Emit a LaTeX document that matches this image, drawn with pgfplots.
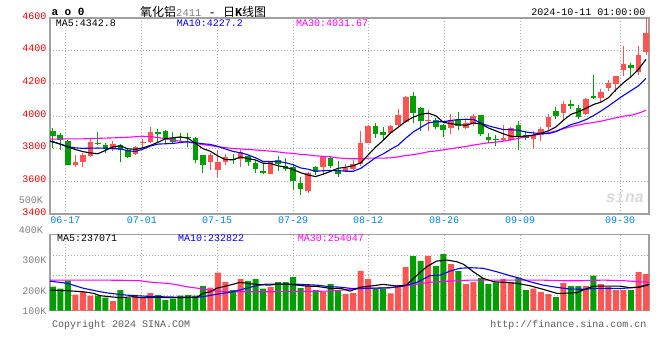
\documentclass[border=0pt]{standalone}
\usepackage{pgfplots}
\pgfplotsset{compat=1.18}
\usepackage{pgfplotstable}
\usepackage{fontspec}
\setmainfont{Liberation Mono}
\newfontfamily\cjk{Noto Sans CJK SC}
\definecolor{kred}{RGB}{255,84,84}
\definecolor{kgreen}{RGB}{0,158,0}
\definecolor{tickred}{RGB}{235,0,0}
\definecolor{dateblue}{RGB}{0,128,224}
\definecolor{magn}{RGB}{255,0,255}
\definecolor{frame}{RGB}{160,160,160}
\definecolor{gridc}{RGB}{170,170,170}
\definecolor{txtgray}{RGB}{90,90,90}

% up (red) candles: x open high low close volume(K)
\pgfplotstableread{
x o h l c v
3 3697 3760 3690 3718 180
4 3716 3775 3690 3763 193
5 3757 3862 3752 3838 175
8 3800 3850 3785 3829 148
11 3767 3818 3759 3810 175
12 3837 3860 3805 3843 163
13 3843 3930 3833 3905 188
21 3720 3773 3670 3763 215
22 3670 3794 3629 3720 290
23 3716 3767 3697 3751 243
25 3736 3790 3685 3781 258
29 3645 3726 3643 3720 218
34 3543 3656 3530 3652 228
36 3685 3757 3640 3751 195
39 3664 3707 3656 3683 183
40 3677 3732 3670 3707 188
41 3705 3907 3695 3837 298
42 3837 3942 3833 3936 258
45 3895 3942 3889 3936 187
46 3944 4041 3936 4008 228
47 3963 4122 3959 4115 318
50 3967 4035 3911 3973 373
53 3926 4010 3891 3977 333
55 3926 3973 3918 3955 233
56 3953 4010 3936 3998 243
60 3852 3942 3846 3864 258
61 3856 3932 3848 3924 243
64 3859 3908 3801 3883 210
65 3885 3933 3845 3920 193
66 3930 4012 3914 3996 183
68 4020 4092 3969 4072 238
71 4010 4109 4006 4105 223
73 4113 4166 4088 4146 233
74 4174 4221 4154 4201 218
75 4195 4246 4150 4242 203
76 4279 4430 4246 4318 203
78 4267 4430 4248 4375 293
79 4392 4620 4371 4508 283
}\upk

% down (green) candles
\pgfplotstableread{
x o h l c v
0 3910 3925 3805 3875 220
1 3886 3896 3790 3853 210
2 3850 3856 3698 3700 250
6 3837 3905 3820 3826 175
7 3825 3833 3771 3800 165
9 3825 3830 3716 3790 203
10 3794 3800 3743 3752 163
14 3904 3920 3835 3887 178
15 3908 3913 3837 3860 153
16 3865 3905 3833 3843 160
17 3872 3895 3833 3864 175
18 3874 3899 3808 3864 178
19 3864 3870 3712 3732 175
20 3759 3763 3650 3697 223
24 3734 3767 3707 3728 203
26 3753 3761 3691 3716 248
27 3713 3732 3654 3678 258
28 3664 3705 3643 3652 210
30 3732 3753 3666 3707 243
31 3695 3744 3664 3676 243
32 3685 3707 3548 3605 268
33 3590 3625 3518 3555 213
35 3689 3695 3637 3658 203
37 3742 3751 3683 3691 233
38 3670 3726 3629 3646 203
43 3936 3955 3866 3889 212
44 3901 3934 3856 3885 212
48 4122 4144 3959 4021 373
49 4047 4056 3911 3969 348
51 3977 3990 3918 3932 323
52 3942 3953 3870 3913 383
54 3977 4023 3913 3940 298
57 4004 4006 3876 3889 263
58 3874 3899 3835 3852 233
59 3858 3881 3819 3852 242
62 3942 3967 3790 3876 263
63 3881 3911 3856 3868 203
67 4031 4053 3982 4000 168
69 4072 4098 4041 4064 223
70 4047 4068 3982 3996 223
72 4125 4252 4105 4113 275
77 4314 4324 4232 4293 203
}\downk

\pgfplotsset{
  panel/.style={
    scale only axis, width=599pt, anchor=south west,
    xmin=-0.37, xmax=79.4, enlargelimits=false, clip=true,
    axis line style={draw=frame, line width=1.3pt},
    major tick length=0pt,
    xtick={1.68,11.85,21.88,32.0,41.98,52.1,62.23,75.54},
    xmajorgrids,
    grid style={gridc, line width=0.9pt, dash pattern=on 0.9pt off 2.1pt},
    tick label style={font=\fontsize{10}{10}\selectfont},
  },
  wick/.style={only marks, mark=*, mark size=0pt, mark options={draw=none, fill=none}, forget plot,
    error bars/.cd, y dir=plus, y explicit, error mark=none,
    error bar style={draw=#1, line width=1pt, solid}},
  body/.style={only marks, mark=*, mark size=0pt, mark options={draw=none, fill=none}, forget plot,
    error bars/.cd, y dir=plus, y explicit, error mark=none,
    error bar style={draw=#1, line width=5.6pt, solid}},
}

\begin{document}
\begin{tikzpicture}[x=1pt,y=1pt]
\useasboundingbox (0,0) rectangle (660,360);

% ---------- price panel ----------
\begin{axis}[panel, at={(50pt,146pt)}, height=196pt,
  ymin=3400, ymax=4600,
  ytick={3400,3600,3800,4000,4200,4400,4600},
  yticklabels={3400,3600,3800,4000,4200,4400,4600},
  yticklabel style={text=tickred, yshift=2pt},
  ymajorgrids,
  xticklabels={06-17,07-01,07-15,07-29,08-12,08-26,09-09,09-30},
  xticklabel style={text=dateblue, yshift=0.5pt},
]
% wicks
\addplot[wick=kred] table[x=x, y=l, y error expr={\thisrow{h}-\thisrow{l}}] {\upk};
\addplot[wick=kgreen] table[x=x, y=l, y error expr={\thisrow{h}-\thisrow{l}}] {\downk};
% bodies
\addplot[body=kred] table[x=x, y=o, y error expr={\thisrow{c}-\thisrow{o}}] {\upk};
\addplot[body=kgreen] table[x=x, y=c, y error expr={\thisrow{o}-\thisrow{c}}] {\downk};

% MA30
\addplot[magn, line width=1.1pt, mark=none] coordinates {
(-0.4,3858)(0,3858)(2,3860)(4,3860)(5,3862)(8,3866)(10,3870)(12,3876)(13,3874)(14,3868)
(15,3860)(16,3852)(17,3846)(18,3840)(19,3832)(20,3825)(21,3818)(22,3812)(23,3806)(24,3801)
(25,3798)(26,3795)(27,3792)(28,3788)(29,3785)(30,3780)(31,3774)(32,3771)(33,3765)(34,3762)
(35,3756)(36,3753)(37,3750)(38,3743)(39,3740)(40,3738)(41,3739)(42,3742)(43,3742)(44,3742)
(45,3744)(46,3750)(47,3758)(48,3763)(49,3771)(50,3781)(51,3786)(52,3793)(53,3800)(54,3807)
(55,3813)(56,3822)(57,3829)(58,3836)(59,3840)(60,3846)(61,3854)(62,3863)(63,3873)(64,3881)
(65,3890)(66,3898)(67,3908)(68,3922)(69,3935)(70,3945)(71,3954)(72,3960)(73,3968)(74,3979)
(75,3989)(76,3999)(77,4005)(78,4017)(79,4035)};
% MA10
\addplot[blue, line width=1.1pt, mark=none] coordinates {
(-0.4,3845)(0,3843)(1,3828)(2,3813)(3,3805)(4,3802)(5,3803)(6,3804)(7,3803)(8,3800)(9,3799)
(10,3787)(11,3783)(12,3797)(13,3816)(14,3828)(15,3830)(16,3832)(17,3838)(18,3842)(19,3836)
(20,3830)(21,3826)(22,3814)(23,3798)(24,3783)(25,3775)(26,3762)(27,3744)(28,3722)(29,3721)
(30,3722)(31,3714)(32,3702)(33,3682)(34,3674)(35,3662)(36,3665)(37,3667)(38,3666)(39,3662)
(40,3662)(41,3679)(42,3712)(43,3745)(44,3768)(45,3796)(46,3822)(47,3864)(48,3902)(49,3930)
(50,3957)(51,3966)(52,3964)(53,3973)(54,3978)(55,3980)(56,3979)(57,3957)(58,3940)(59,3928)
(60,3917)(61,3916)(62,3913)(63,3902)(64,3896)(65,3893)(66,3892)(67,3904)(68,3926)(69,3947)
(70,3960)(71,3978)(72,4002)(73,4030)(74,4061)(75,4094)(76,4126)(77,4155)(78,4185)(79,4230)};
% MA5
\addplot[black, line width=1.1pt, mark=none] coordinates {
(-0.4,3846)(0,3842)(1,3828)(2,3810)(3,3795)(4,3782)(5,3774)(6,3769)(7,3789)(8,3811)(9,3817)
(10,3799)(11,3796)(12,3805)(13,3820)(14,3839)(15,3861)(16,3867)(17,3872)(18,3864)(19,3833)
(20,3800)(21,3784)(22,3755)(23,3733)(24,3732)(25,3749)(26,3739)(27,3731)(28,3711)(29,3709)
(30,3695)(31,3687)(32,3672)(33,3653)(34,3639)(35,3629)(36,3644)(37,3661)(38,3680)(39,3686)
(40,3696)(41,3713)(42,3762)(43,3810)(44,3851)(45,3897)(46,3931)(47,3967)(48,3993)(49,4010)
(50,4017)(51,4002)(52,3962)(53,3953)(54,3947)(55,3943)(56,3957)(57,3952)(58,3927)(59,3909)
(60,3891)(61,3876)(62,3874)(63,3877)(64,3883)(65,3894)(66,3909)(67,3933)(68,3974)(69,4010)
(70,4026)(71,4047)(72,4070)(73,4085)(74,4112)(75,4161)(76,4204)(77,4240)(78,4286)(79,4347)};

\node[anchor=west, font=\fontsize{10}{10}\selectfont, text=black] at (rel axis cs:0.004,0.971) {MA5:4342.8};
\node[anchor=west, font=\fontsize{10}{10}\selectfont, text=blue] at (rel axis cs:0.206,0.971) {MA10:4227.2};
\node[anchor=west, font=\fontsize{10}{10}\selectfont, text=magn] at (rel axis cs:0.405,0.971) {MA30:4031.67};
\node[font=\fontsize{16}{16}\selectfont\bfseries\itshape, text=gray!30] at (rel axis cs:0.96,0.09) {sina};
\end{axis}

% ---------- volume panel ----------
\begin{axis}[panel, at={(50pt,49.3pt)}, height=76.4pt,
  ymin=100, ymax=482,
  ytick={100,198.5,353.5},
  yticklabels={100K,200K,300K},
  yticklabel style={text=gray},
  xticklabels={},
  extra y ticks={175,275,375},
  extra y tick labels={},
  extra y tick style={ymajorgrids=true},
]
\addplot[ybar, bar width=6pt, bar shift=0pt, fill=kred, draw=none, forget plot] table[x=x, y=v] {\upk};
\addplot[ybar, bar width=6pt, bar shift=0pt, fill=kgreen, draw=none, forget plot] table[x=x, y=v] {\downk};

% MA30 volume
\addplot[magn, line width=1.1pt, mark=none] coordinates {
(-0.4,253)(6.3,253)(9.5,252)(11.6,250)(12.5,245)(13.8,240)(15.2,237)(16.5,230)(17.8,220)
(19.2,213)(20.5,205)(21.8,198)(23,195)(30,195)(36.9,198)(39.6,207)(42.2,212)(44.9,215)
(47.6,228)(50.2,242)(52.9,248)(55.6,253)(60,253)(65,253)(68,250)(70.6,250)(73.3,253)(76,250)(79.5,242)};
% MA10 volume
\addplot[blue, line width=1.1pt, mark=none] coordinates {
(-0.4,248)(1.9,237)(4.1,212)(6.3,195)(7.6,187)(9.8,178)(12,173)(14.2,170)(16.4,168)(19.2,167)
(20.5,173)(21.8,182)(24,195)(25.8,212)(27.1,225)(28.4,233)(30.6,233)(32.8,232)(35.1,228)
(36.9,220)(38.2,218)(39.6,212)(41.4,212)(43.1,213)(44.9,215)(46.7,223)(48.5,242)(50.2,275)
(51.6,278)(52.9,298)(54.2,312)(55.6,315)(57.3,312)(59.1,295)(60.9,275)(62.2,262)(63.5,245)
(65.3,228)(67.1,217)(68.9,208)(70.6,207)(72.4,212)(74.2,212)(76,212)(77.8,217)(79.5,232)};
% MA5 volume
\addplot[black, line width=1.1pt, mark=none] coordinates {
(-0.4,203)(2,200)(4,195)(5.4,187)(6.3,175)(7.6,170)(9,165)(10.7,170)(11.6,165)(13.8,167)
(16,165)(17.8,166)(19.2,167)(20,187)(21,195)(21.8,212)(22.7,220)(24,232)(24.9,242)(26.3,235)
(27.6,230)(28.9,228)(29.8,233)(31.1,233)(32,230)(33.8,223)(35.1,222)(36.9,212)(38.3,212)
(39.6,198)(40.9,217)(42.7,225)(44,232)(45.8,223)(47.1,228)(48.5,278)(49.8,320)(51.1,348)
(52.5,353)(53.8,345)(54.7,332)(56,295)(57.3,262)(58.7,245)(60,242)(61.8,237)(63.5,225)
(65.3,207)(67.1,187)(68,187)(69.8,190)(70.6,203)(72,223)(73.8,223)(75.5,223)(76.9,215)
(78.2,218)(79.5,232)};

\node[anchor=west, font=\fontsize{10}{10}\selectfont, text=black] at (rel axis cs:0.006,0.945) {MA5:237071};
\node[anchor=west, font=\fontsize{10}{10}\selectfont, text=blue] at (rel axis cs:0.208,0.945) {MA10:232822};
\node[anchor=west, font=\fontsize{10}{10}\selectfont, text=magn] at (rel axis cs:0.408,0.945) {MA30:254047};
\end{axis}

% ---------- surrounding texts ----------
\node[anchor=west, font=\fontsize{11}{11}\selectfont\bfseries] at (48,348.5) {a o 0};
\node[anchor=west, inner sep=0pt, font=\fontsize{12}{12}\selectfont] at (140,348.5)
  {{\cjk 氧化铝}{\color{gray}\fontsize{10.5}{10.5}\selectfont 2411}\ -\ {\cjk 日}\textbf{K}{\cjk 线图}};
\node[anchor=east, font=\fontsize{10}{10}\selectfont] at (649,347.5) {2024-10-11 01:00:00};
\node[anchor=east, font=\fontsize{10}{10}\selectfont, text=gray] at (46.5,160) {500K};
\node[anchor=east, font=\fontsize{10}{10}\selectfont, text=gray] at (46.5,129.5) {400K};
\node[anchor=west, font=\fontsize{10}{10}\selectfont, text=txtgray] at (48.5,35.5) {Copyright 2024 SINA.COM};
\node[anchor=east, font=\fontsize{10}{10}\selectfont, text=txtgray] at (650,35.5) {http://finance.sina.com.cn};
\end{tikzpicture}
\end{document}
